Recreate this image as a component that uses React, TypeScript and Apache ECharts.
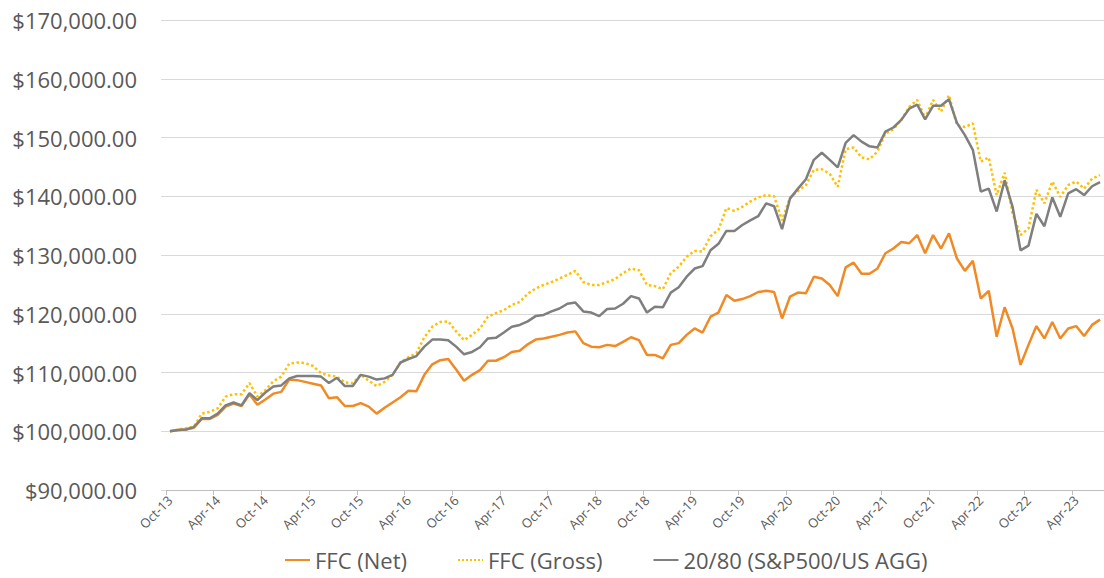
import React, { useEffect, useRef } from 'react';
import * as echarts from 'echarts';

const MONTHS = ['Jan', 'Feb', 'Mar', 'Apr', 'May', 'Jun', 'Jul', 'Aug', 'Sep', 'Oct', 'Nov', 'Dec'];
// Monthly categories from Oct-13 to Jul-23
const categories: string[] = Array.from({ length: 118 }, (_, i) => {
  const m = (9 + i) % 12;
  const y = 13 + Math.floor((9 + i) / 12);
  return `${MONTHS[m]}-${y}`;
});

// Values in thousands of dollars
const ffcNet = [
  100.0, 100.2, 100.3, 100.6, 102.1, 102.1, 102.8, 104.2, 104.7, 104.3,
  106.3, 104.5, 105.4, 106.4, 106.7, 108.8, 108.7, 108.4, 108.1, 107.8,
  105.6, 105.8, 104.3, 104.3, 104.8, 104.2, 103.0, 104.0, 104.9, 105.8,
  106.9, 106.8, 109.6, 111.4, 112.1, 112.3, 110.5, 108.6, 109.6, 110.4,
  112.0, 112.0, 112.6, 113.5, 113.7, 114.8, 115.6, 115.8, 116.1, 116.4,
  116.8, 117.0, 115.0, 114.4, 114.3, 114.7, 114.5, 115.2, 116.0, 115.5,
  113.0, 113.0, 112.4, 114.7, 115.0, 116.4, 117.5, 116.8, 119.5, 120.2,
  123.2, 122.2, 122.5, 123.0, 123.7, 123.9, 123.7, 119.2, 122.9, 123.6,
  123.5, 126.3, 126.0, 124.9, 123.0, 127.9, 128.7, 126.8, 126.8, 127.7,
  130.3, 131.1, 132.2, 132.0, 133.4, 130.3, 133.4, 131.1, 133.7, 129.4,
  127.3, 129.0, 122.6, 123.9, 116.1, 121.1, 117.5, 111.3, 114.7, 117.9,
  115.8, 118.6, 115.8, 117.5, 117.9, 116.2, 118.1, 119.0,
];

const ffcGross = [
  100.0, 100.3, 100.5, 100.8, 103.0, 103.3, 103.9, 105.9, 106.3, 106.3,
  108.2, 105.9, 107.0, 108.5, 109.3, 111.5, 111.7, 111.6, 111.1, 109.9,
  109.5, 109.3, 108.3, 108.2, 109.6, 108.6, 107.7, 108.4, 109.6, 111.7,
  112.6, 113.3, 116.0, 117.8, 118.6, 118.7, 117.0, 115.5, 116.4, 117.5,
  119.5, 120.1, 120.6, 121.5, 122.0, 123.4, 124.3, 124.9, 125.4, 126.0,
  126.6, 127.3, 125.4, 124.9, 124.9, 125.4, 125.9, 126.9, 127.7, 127.4,
  124.9, 124.7, 124.2, 126.9, 128.0, 129.7, 130.7, 130.6, 133.2, 134.3,
  138.0, 137.5, 138.2, 139.1, 139.8, 140.2, 140.0, 135.9, 139.8, 140.9,
  141.9, 144.5, 144.6, 143.8, 141.6, 148.0, 148.3, 146.6, 146.3, 147.6,
  150.7, 151.4, 153.0, 155.2, 156.4, 153.3, 156.4, 154.4, 157.2, 152.1,
  151.8, 152.4, 145.9, 146.6, 140.2, 144.0, 137.1, 133.4, 134.5, 141.1,
  138.8, 142.5, 139.9, 141.9, 142.5, 141.3, 143.0, 143.6,
];

const benchmark = [
  100.0, 100.2, 100.3, 100.7, 102.2, 102.2, 103.0, 104.4, 104.9, 104.4,
  106.5, 105.3, 106.6, 107.6, 107.8, 109.0, 109.4, 109.4, 109.4, 109.3,
  108.2, 109.1, 107.7, 107.7, 109.6, 109.3, 108.8, 109.0, 109.6, 111.7,
  112.3, 112.8, 114.4, 115.6, 115.6, 115.5, 114.4, 113.1, 113.5, 114.3,
  115.8, 115.9, 116.8, 117.8, 118.1, 118.7, 119.6, 119.8, 120.4, 120.9,
  121.7, 121.9, 120.4, 120.2, 119.6, 120.8, 120.9, 121.7, 123.0, 122.6,
  120.2, 121.2, 121.1, 123.6, 124.5, 126.3, 127.7, 128.1, 130.8, 131.9,
  134.1, 134.1, 135.1, 135.9, 136.6, 138.8, 138.3, 134.4, 139.6, 141.3,
  142.9, 146.2, 147.4, 146.2, 144.9, 149.1, 150.4, 149.3, 148.5, 148.3,
  151.0, 151.7, 153.0, 154.9, 155.6, 153.1, 155.4, 155.4, 156.5, 152.5,
  150.4, 147.9, 140.8, 141.3, 137.4, 142.7, 138.2, 130.8, 131.6, 137.0,
  134.9, 139.8, 136.5, 140.5, 141.2, 140.2, 141.7, 142.4,
];

const seriesNames = ['FFC (Net)', 'FFC (Gross)', '20/80 (S&P500/US AGG)'];

const toDollars = (arr: number[]) => arr.map((v) => Math.round(v * 1000));

const fmtMoney = (v: number) =>
  '$' + String(Math.round(v)).replace(/\B(?=(\d{3})+(?!\d))/g, ',') + '.00';

export default function App() {
  const ref = useRef<HTMLDivElement>(null);

  useEffect(() => {
    if (!ref.current) return;
    const chart = echarts.init(ref.current, null, { renderer: 'svg' });
    chart.setOption({
      animation: false,
      backgroundColor: '#ffffff',
      textStyle: { fontFamily: 'Open Sans' },
      grid: { left: 166, right: -8, top: 20, bottom: 88, containLabel: false },
      legend: {
        top: 549,
        left: 284,
        itemWidth: 25,
        itemHeight: 14,
        itemGap: 50,
        padding: 0,
        itemStyle: { color: 'rgba(0,0,0,0)', borderColor: 'rgba(0,0,0,0)', borderWidth: 0, opacity: 0 },
        textStyle: { fontSize: 22, color: '#595959', fontFamily: 'Open Sans' },
        data: seriesNames,
      },
      xAxis: {
        type: 'category',
        boundaryGap: true,
        data: categories,
        axisLine: { show: true, lineStyle: { color: '#BFBFBF', width: 1 } },
        axisTick: { show: true, interval: 5, length: 5, lineStyle: { color: '#BFBFBF' } },
        axisLabel: {
          interval: 5,
          rotate: 45,
          fontSize: 13,
          color: '#595959',
          margin: 8,
          fontFamily: 'Open Sans',
        },
        splitLine: { show: false },
      },
      yAxis: {
        type: 'value',
        min: 90000,
        max: 170000,
        interval: 10000,
        axisLine: { show: false },
        axisTick: { show: true, length: 5, lineStyle: { color: '#D9D9D9' } },
        splitLine: { show: true, lineStyle: { color: '#D9D9D9', width: 1 } },
        axisLabel: {
          fontSize: 22,
          color: '#595959',
          margin: 29,
          fontFamily: 'Open Sans',
          formatter: (v: number) => fmtMoney(v),
        },
      },
      series: [
        {
          name: seriesNames[0],
          type: 'line',
          symbol: 'none',
          data: toDollars(ffcNet),
          lineStyle: { color: '#F08A24', width: 2.5 },
          itemStyle: { color: '#F08A24' },
        },
        {
          name: seriesNames[1],
          type: 'line',
          symbol: 'none',
          data: toDollars(ffcGross),
          lineStyle: { color: '#FFC000', width: 2.5, type: 'dotted' },
          itemStyle: { color: '#FFC000' },
        },
        {
          name: seriesNames[2],
          type: 'line',
          symbol: 'none',
          data: toDollars(benchmark),
          lineStyle: { color: '#7F7F7F', width: 2.5 },
          itemStyle: { color: '#7F7F7F' },
        },
      ],
    });
    return () => chart.dispose();
  }, []);

  return (
    <div
      ref={ref}
      style={{ position: 'fixed', left: 0, top: 0, width: 1104, height: 578, background: '#fff' }}
    />
  );
}
